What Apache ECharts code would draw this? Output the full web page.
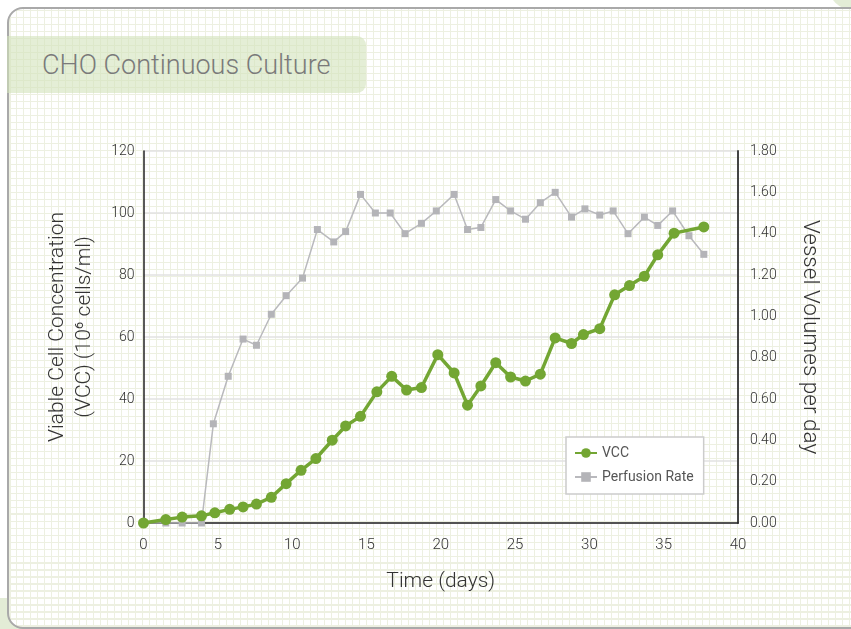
<!DOCTYPE html>
<html>
<head>
<meta charset="utf-8">
<script src="https://cdn.jsdelivr.net/npm/echarts@6/dist/echarts.min.js"></script>
<style>
  html, body { margin: 0; padding: 0; width: 851px; height: 629px; overflow: hidden; background: #ffffff; }
  #deco1 { position: absolute; left: -20px; top: 598px; width: 60px; height: 60px; background: #e3ecd6; border-radius: 10px; }
  #deco2 { position: absolute; left: 828px; top: -40px; width: 60px; height: 50px; background: #e3ecd6; border-radius: 30px; }
  #panel {
    position: absolute; left: 7px; top: 7px; width: 900px; height: 618px;
    border: 2px solid #a9a9a9; border-radius: 16px; overflow: hidden;
    background-color: #ffffff;
    background-image:
      repeating-linear-gradient(0deg, #edf0e1 0px, #edf0e1 1.5px, transparent 1.5px, transparent 7px),
      repeating-linear-gradient(90deg, #edf0e1 0px, #edf0e1 1.5px, transparent 1.5px, transparent 7px);
  }
  #titlebox {
    position: absolute; left: 7px; top: 36px; width: 359px; height: 57px;
    background: rgba(210, 226, 186, 0.6); border-radius: 0 9px 9px 0;
  }
  #titletext {
    position: absolute; left: 42px; top: 47px; font-family: Roboto, sans-serif; font-weight: 300;
    font-size: 27px; color: #7a7a7a; line-height: 36px; white-space: nowrap;
  }
  #chart { position: absolute; left: 0; top: 0; width: 851px; height: 629px; }
</style>
</head>
<body>
<div id="deco1"></div>
<div id="deco2"></div>
<div id="panel"></div>
<div id="titlebox"></div>
<div id="titletext">CHO Continuous Culture</div>
<div id="chart"></div>
<script>
// ---- data ----
var vccDays = [0,1.5,2.6,3.9,4.8,5.8,6.7,7.6,8.6,9.6,10.6,11.6,12.7,13.6,14.6,15.7,16.7,17.7,18.7,19.8,20.9,21.8,22.7,23.7,24.7,25.7,26.7,27.7,28.8,29.6,30.7,31.7,32.7,33.7,34.6,35.7,37.7];
var vccValues = [0,1.1,1.9,2.3,3.3,4.4,5.2,6.1,8.3,12.7,17.0,20.8,26.7,31.3,34.4,42.3,47.3,42.9,43.7,54.3,48.4,38.0,44.2,51.7,47.1,45.8,48.0,59.7,57.9,60.8,62.7,73.6,76.6,79.6,86.5,93.5,95.5];
var perfDays = [0,1.5,2.6,3.9,4.7,5.7,6.7,7.6,8.6,9.6,10.7,11.7,12.8,13.6,14.6,15.6,16.6,17.6,18.7,19.7,20.9,21.8,22.7,23.7,24.7,25.7,26.7,27.7,28.8,29.7,30.7,31.6,32.6,33.7,34.6,35.6,36.7,37.7];
var perfValues = [0,0,0,0,0.48,0.71,0.89,0.86,1.01,1.10,1.185,1.42,1.36,1.41,1.59,1.50,1.50,1.40,1.45,1.51,1.59,1.42,1.43,1.565,1.51,1.47,1.55,1.60,1.48,1.52,1.49,1.51,1.40,1.48,1.44,1.51,1.39,1.30];
var seriesNames = ['VCC', 'Perfusion Rate'];
var xAxisTitle = 'Time (days)';
var leftAxisTitle = 'Viable Cell Concentration\n(VCC) (10\u2076 cells/ml)';
var rightAxisTitle = 'Vessel Volumes per day';

function pairs(xs, ys) { return xs.map(function (x, i) { return [x, ys[i]]; }); }

var FONT = "Roboto, sans-serif";
var W = 300;
var chart = echarts.init(document.getElementById('chart'), null, { renderer: 'canvas' });
chart.setOption({
  backgroundColor: 'transparent',
  animation: false,
  textStyle: { fontFamily: FONT, fontWeight: W },
  grid: { left: 143.5, right: 113, top: 151, bottom: 106, containLabel: false },
  legend: {
    data: seriesNames,
    orient: 'vertical',
    left: 566, top: 437,
    backgroundColor: '#ffffff',
    borderColor: '#cccccc', borderWidth: 1.5,
    padding: [9, 10, 10, 8],
    itemGap: 10,
    itemWidth: 22, itemHeight: 12,
    textStyle: { fontFamily: FONT, fontWeight: 400, fontSize: 14, color: '#555555' }
  },
  xAxis: {
    type: 'value', min: 0, max: 40, interval: 5,
    name: xAxisTitle, nameLocation: 'middle', nameGap: 48,
    nameTextStyle: { fontFamily: FONT, fontWeight: W, fontSize: 21, color: '#333333' },
    axisLine: { show: true, lineStyle: { color: '#222222', width: 1.5 } },
    axisTick: { show: false },
    axisLabel: { fontFamily: FONT, fontWeight: W, fontSize: 15, color: '#333333', margin: 15 },
    splitLine: { show: false }
  },
  yAxis: [
    {
      type: 'value', min: 0, max: 120, interval: 20, position: 'left',
      name: leftAxisTitle, nameLocation: 'middle', nameGap: 45, nameRotate: 90,
      nameTextStyle: { fontFamily: FONT, fontWeight: W, fontSize: 21, color: '#333333', lineHeight: 27, align: 'center', padding: [0, 0, 0, 20] },
      axisLine: { show: true, lineStyle: { color: '#222222', width: 1.5 } },
      axisTick: { show: false },
      axisLabel: { fontFamily: FONT, fontWeight: W, fontSize: 14, color: '#333333', margin: 9 },
      splitLine: { show: true, lineStyle: { color: '#e2e2e2', width: 1.5 } }
    },
    {
      type: 'value', min: 0, max: 1.8, interval: 0.2, position: 'right',
      name: rightAxisTitle, nameLocation: 'middle', nameGap: 60, nameRotate: -90,
      nameTextStyle: { fontFamily: FONT, fontWeight: W, fontSize: 22.5, color: '#333333' },
      axisLine: { show: true, lineStyle: { color: '#444444', width: 2 } },
      axisTick: { show: false },
      axisLabel: { fontFamily: FONT, fontWeight: W, fontSize: 14, color: '#333333', margin: 12,
        formatter: function (v) { return v.toFixed(2); } },
      splitLine: { show: false }
    }
  ],
  series: [
    {
      name: seriesNames[0], type: 'line', yAxisIndex: 0, z: 3,
      data: pairs(vccDays, vccValues),
      symbol: 'circle', symbolSize: 11,
      lineStyle: { color: '#73a633', width: 3.5 },
      itemStyle: { color: '#73a633' }
    },
    {
      name: seriesNames[1], type: 'line', yAxisIndex: 1, z: 2,
      data: pairs(perfDays, perfValues),
      symbol: 'rect', symbolSize: 7,
      lineStyle: { color: '#b9b9bd', width: 1.5 },
      itemStyle: { color: '#b4b4b8' }
    }
  ]
});
</script>
</body>
</html>
